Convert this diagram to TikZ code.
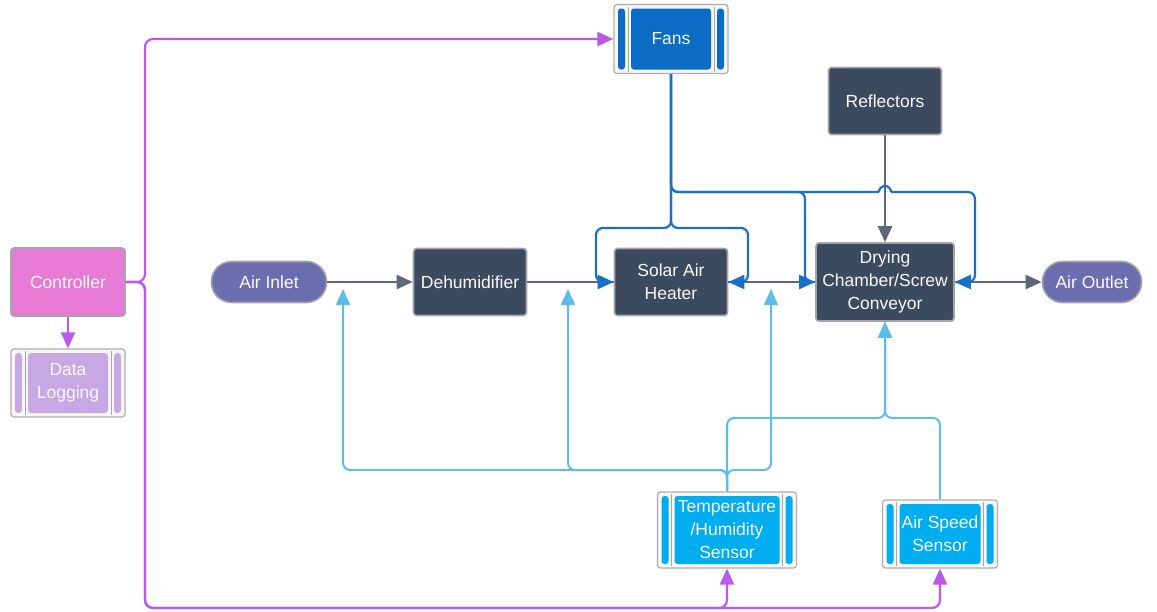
\documentclass[tikz,border=0pt]{standalone}
\usepackage{fontspec}
\setmainfont{Liberation Sans}
\usetikzlibrary{arrows.meta}
\definecolor{darkbox}{HTML}{3B4A5F}
\definecolor{darkedge}{HTML}{A2A6AC}
\definecolor{pill}{HTML}{6C6DAE}
\definecolor{ctrlpink}{HTML}{E67AD4}
\definecolor{dlog}{HTML}{C8A8E4}
\definecolor{fanblue}{HTML}{0A6CC4}
\definecolor{sensorblue}{HTML}{00AEEF}
\definecolor{purpleline}{HTML}{BA5AEA}
\definecolor{fanline}{HTML}{1A6FC6}
\definecolor{sensorline}{HTML}{5CBDEA}
\definecolor{grayline}{HTML}{5E6878}
\tikzset{
  lbl/.style={text=white!96!gray, font=\fontsize{17.5}{23}\selectfont, align=center, inner sep=1pt},
  darknode/.style={lbl, fill=darkbox, draw=darkedge, line width=1.6pt, rounded corners=3pt, minimum width=113pt, minimum height=67pt},
  pillnode/.style={lbl, fill=pill, draw=darkedge, line width=1.6pt, rounded corners=20pt, minimum height=41pt},
  subnode/.style={lbl, draw=gray!65, line width=1.2pt, rounded corners=3pt, fill=gray!6,
    path picture={
      \fill[#1] ([shift={(4pt,-4pt)}]path picture bounding box.north west) rectangle ([shift={(11pt,4pt)}]path picture bounding box.south west);
      \fill[#1] ([shift={(-4pt,-4pt)}]path picture bounding box.north east) rectangle ([shift={(-11pt,4pt)}]path picture bounding box.south east);
      \fill[#1] ([shift={(17pt,-4pt)}]path picture bounding box.north west) rectangle ([shift={(-17pt,4pt)}]path picture bounding box.south east);
      \draw[gray!70, line width=0.9pt] ([shift={(14pt,-2pt)}]path picture bounding box.north west) -- ([shift={(14pt,2pt)}]path picture bounding box.south west);
      \draw[gray!70, line width=0.9pt] ([shift={(-14pt,-2pt)}]path picture bounding box.north east) -- ([shift={(-14pt,2pt)}]path picture bounding box.south east);
    }},
  tip/.style={-{Triangle[length=16pt,width=14pt]}},
  gl/.style={draw=grayline, line width=2.4pt, tip},
  fl/.style={draw=fanline, line width=2.2pt, rounded corners=7pt, tip},
  sl/.style={draw=sensorline, line width=2pt, rounded corners=7pt, tip},
  pl/.style={draw=purpleline, line width=2.2pt, rounded corners=8pt, tip},
}
\begin{document}
\begin{tikzpicture}[x=1pt,y=-1pt]
\useasboundingbox (0,0) rectangle (1157,611);
% nodes
\node[subnode=fanblue, minimum width=114pt, minimum height=69pt] (fans) at (671,39) {Fans};
\node[darknode] (refl) at (885,101) {Reflectors};
\node[darknode, fill=ctrlpink, minimum width=114pt, minimum height=68pt] (ctrl) at (68,282) {Controller};
\node[subnode=dlog, minimum width=114pt, minimum height=68pt] (dlg) at (68,383) {Data\\Logging};
\node[pillnode, minimum width=115pt] (inlet) at (269,282) {Air Inlet};
\node[darknode] (dehum) at (470,282) {Dehumidifier};
\node[darknode] (solar) at (671,282) {Solar Air\\Heater};
\node[darknode, minimum width=138pt, minimum height=78pt] (dry) at (885,282) {Drying\\Chamber/Screw\\Conveyor};
\node[pillnode, minimum width=99pt] (outlet) at (1092,282) {Air Outlet};
\node[subnode=sensorblue, minimum width=139pt, minimum height=76pt] (temp) at (727,530) {Temperature\\/Humidity\\Sensor};
\node[subnode=sensorblue, minimum width=115pt, minimum height=68pt] (aspd) at (940,534) {Air Speed\\Sensor};
% main air path
\draw[gl] (inlet.east) -- (dehum.west);
\draw[gl, -] (dehum.east) -- (solar.west);
\draw[gl, -] (solar.east) -- (dry.west);
\draw[gl] (dry.east) -- (outlet.west);
\draw[gl] (refl.south) -- (dry.north);
% fans
\draw[fl] (fans.south) |- (805,192) -- (805,282) -- (dry.west);
\draw[fl, -] (fans.south) |- (879,192);
\draw[draw=fanline, line width=2.2pt] (879,192) arc[start angle=180, end angle=360, radius=6];
\draw[fl] (891,192) -| (975,282) -- (dry.east);
\draw[fl] (fans.south) |- (596,228) |- (solar.west);
\draw[fl] (fans.south) |- (748,228) |- (solar.east);
% sensors
\draw[sl] (temp.north) |- (343,470) -- (343,289);
\draw[sl] (temp.north) |- (568,470) -- (568,289);
\draw[sl] (temp.north) |- (771,470) -- (771,289);
\draw[sl] (temp.north) |- (885,418) -- (dry.south);
\draw[sl] (aspd.north) |- (885,418) -- (dry.south);
% controller
\draw[pl] (ctrl.east) -- (145,282) |- (fans.west);
\draw[pl] (ctrl.east) -- (145,282) |- (727,608) -- (temp.south);
\draw[pl] (ctrl.east) -- (145,282) |- (940,608) -- (aspd.south);
\draw[pl] (ctrl.south) -- (dlg.north);
\end{tikzpicture}
\end{document}
